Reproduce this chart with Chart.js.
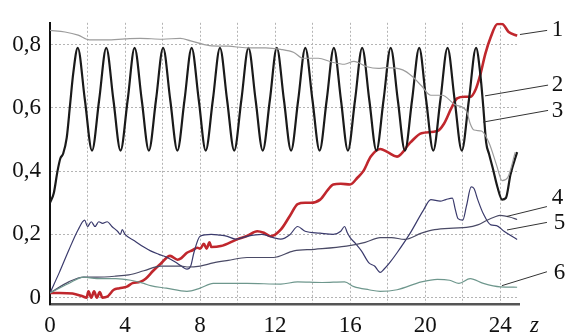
<!DOCTYPE html>
<html>
<head>
<meta charset="utf-8">
<script src="https://cdn.jsdelivr.net/npm/chart.js@4"></script>
<style>
  html, body { margin: 0; padding: 0; background: #fff; }
  #wrap { width: 571px; height: 335px; }
</style>
</head>
<body>
<div id="wrap"><canvas id="chart" width="571" height="335"></canvas></div>
<script>
// Curve 1 (red)
const z1 = [0, 0.5, 1.2, 1.7, 1.95, 2.05, 2.2, 2.35, 2.5, 2.65, 2.8, 3.05, 3.4, 3.7, 4.1, 4.4, 4.8, 5.1, 5.5, 5.9,
    6.4, 6.8, 7.0, 7.3, 7.6, 7.85, 8.0, 8.2, 8.35, 8.5, 8.6, 9.1, 10.0, 10.5, 11.05, 11.4, 11.76, 12.3, 12.8, 13.2,
    13.6, 13.9, 14.4, 14.8, 15.1, 15.5, 16.0, 16.4, 16.7, 17.1, 17.6, 18.0, 18.5, 19.2, 19.8, 20.65, 21.0, 21.4,
    21.7, 22.1, 22.4, 22.7, 22.96, 23.2, 23.5, 23.85, 24.1, 24.45, 24.9];
const v1 = [0.015, 0.015, 0.013, 0.005, 0.0, 0.02, 0.0, 0.02, 0.0, 0.018, 0.0, 0.003, 0.025, 0.03, 0.035, 0.046, 0.05, 0.06, 0.085, 0.107,
    0.132, 0.12, 0.125, 0.142, 0.15, 0.158, 0.155, 0.17, 0.155, 0.175, 0.16, 0.163, 0.185, 0.195, 0.21, 0.205, 0.194, 0.215, 0.26, 0.296,
    0.30, 0.30, 0.31, 0.34, 0.358, 0.36, 0.358, 0.38, 0.40, 0.446, 0.47, 0.46, 0.446, 0.49, 0.52, 0.527, 0.55, 0.60,
    0.63, 0.635, 0.635, 0.66, 0.71, 0.77, 0.825, 0.865, 0.865, 0.84, 0.828];

// Curve 2 (black, oscillating)
const z2 = [0, 0.2, 0.4, 0.55, 0.7, 0.89, 1.07, 1.24, 1.48,
    1.86, 2.24, 2.62, 3.00, 3.38, 3.76, 4.14, 4.51, 4.89, 5.27, 5.65, 6.03, 6.41, 6.79, 7.17, 7.55,
    7.93, 8.30, 8.68, 9.06, 9.44, 9.82, 10.20, 10.58, 10.96, 11.34, 11.72, 12.09, 12.47, 12.85, 13.23, 13.61,
    13.99, 14.37, 14.75, 15.13, 15.51, 15.88, 16.26, 16.64, 17.02, 17.40, 17.78, 18.16, 18.54, 18.92, 19.30, 19.68,
    20.05, 20.43, 20.81, 21.19, 21.57, 21.95, 22.33, 22.71,
    22.95, 23.1, 23.25, 23.4, 23.6, 23.85, 24.1, 24.3, 24.55, 24.9];
const v2 = [0.30, 0.33, 0.40, 0.44, 0.455, 0.505, 0.61, 0.71, 0.79,
    0.625, 0.465, 0.625, 0.79, 0.625, 0.465, 0.625, 0.79, 0.625, 0.465, 0.625, 0.79, 0.625, 0.465, 0.625, 0.79,
    0.625, 0.465, 0.625, 0.79, 0.625, 0.465, 0.625, 0.79, 0.625, 0.465, 0.625, 0.79, 0.625, 0.465, 0.625, 0.79,
    0.625, 0.465, 0.625, 0.79, 0.625, 0.465, 0.625, 0.79, 0.625, 0.465, 0.625, 0.79, 0.625, 0.465, 0.625, 0.79,
    0.625, 0.465, 0.625, 0.79, 0.625, 0.465, 0.625, 0.79,
    0.70, 0.60, 0.49, 0.455, 0.41, 0.35, 0.31, 0.315, 0.39, 0.46];

// Curve 3 (light grey, top)
const z3 = [0, 0.8, 1.5, 2.1, 3.0, 4.0, 4.8, 6.0, 6.95, 7.5, 8.5, 9.5, 10.5, 11.5, 12.3, 13.0, 13.5, 14.3, 15.0, 15.7,
    16.2, 16.9, 17.5, 17.9, 18.8, 19.3, 19.8, 20.3, 20.9, 21.6, 22.2, 22.4, 22.6, 23.0, 23.4, 23.8, 24.1, 24.4, 24.8];
const v3 = [0.845, 0.84, 0.83, 0.815, 0.815, 0.818, 0.82, 0.817, 0.82, 0.812, 0.797, 0.795, 0.79, 0.79, 0.785, 0.775, 0.757, 0.757, 0.745, 0.738,
    0.747, 0.73, 0.725, 0.727, 0.72, 0.70, 0.67, 0.64, 0.64, 0.61, 0.59, 0.55, 0.53, 0.527, 0.49, 0.42, 0.37, 0.38, 0.46];

// Curve 4 (smooth rising)
const z4 = [0, 1.0, 1.8, 2.5, 3.5, 4.2, 5.0, 5.9, 7.0, 7.3, 8.0, 8.7, 9.5, 10.5, 11.9, 13.0, 14.1, 15.8, 16.8, 17.6,
    18.2, 18.9, 19.8, 20.5, 21.5, 22.2, 22.8, 23.3, 23.7, 24.0, 24.5, 24.9];
const v4 = [0.015, 0.05, 0.065, 0.065, 0.068, 0.072, 0.085, 0.10, 0.10, 0.097, 0.10, 0.11, 0.118, 0.127, 0.127, 0.148, 0.153, 0.163, 0.175, 0.19,
    0.19, 0.184, 0.204, 0.215, 0.22, 0.222, 0.23, 0.245, 0.255, 0.26, 0.255, 0.247];

// Curve 5 (wavy, dark blue)
const z5 = [0, 0.5, 1.0, 1.5, 1.85, 2.0, 2.2, 2.4, 2.6, 2.8, 3.05, 3.3, 3.6, 3.75, 3.85, 4.0, 4.5, 5.0, 5.36, 5.8,
    6.25, 6.7, 7.0, 7.3, 7.5, 7.67, 8.0, 8.6, 9.0, 9.45, 9.9, 10.5, 11.3, 11.9, 12.3, 12.8, 13.2, 13.6, 14.4, 15.1,
    15.5, 15.7, 15.85, 16.0, 16.3, 16.6, 17.0, 17.3, 17.6, 17.8, 18.1, 18.5, 19.2, 19.9, 20.3, 20.8, 21.1, 21.45, 21.6, 21.75,
    22.0, 22.2, 22.45, 22.6, 22.8, 23.1, 23.5, 23.8, 24.2, 24.9];
const v5 = [0.015, 0.08, 0.15, 0.215, 0.245, 0.225, 0.24, 0.225, 0.24, 0.235, 0.24, 0.225, 0.21, 0.20, 0.215, 0.20, 0.18, 0.16, 0.148, 0.137,
    0.127, 0.112, 0.10, 0.09, 0.10, 0.142, 0.194, 0.20, 0.198, 0.194, 0.185, 0.194, 0.20, 0.19, 0.185, 0.20, 0.225, 0.21, 0.204, 0.20,
    0.21, 0.225, 0.205, 0.19, 0.17, 0.148, 0.11, 0.10, 0.08, 0.09, 0.11, 0.142, 0.204, 0.276, 0.31, 0.305, 0.31, 0.315, 0.28, 0.25,
    0.245, 0.29, 0.35, 0.345, 0.31, 0.265, 0.23, 0.228, 0.21, 0.184];

// Curve 6 (low, teal grey)
const z6 = [0, 1.0, 1.8, 2.5, 3.5, 4.3, 5.0, 5.36, 6.2, 7.3, 8.0, 8.7, 10.5, 12.3, 13.2, 14.5, 15.7, 16.2, 17.0, 17.6,
    18.5, 19.8, 20.65, 21.3, 21.8, 22.4, 23.1, 24.0, 24.9];
const v6 = [0.015, 0.045, 0.065, 0.06, 0.06, 0.055, 0.045, 0.038, 0.03, 0.02, 0.03, 0.045, 0.045, 0.043, 0.05, 0.048, 0.05, 0.035, 0.025, 0.02,
    0.025, 0.05, 0.058, 0.055, 0.045, 0.06, 0.045, 0.034, 0.033];

const xTicks = [0, 2, 4, 6, 8, 10, 12, 14, 16, 18, 20, 22, 24];
const yTicks = [0, 0.2, 0.4, 0.6, 0.8];

// curve labels: [text, labelZ, labelBaselineValue, leaderStartZ, leaderStartV, leaderEndZ, leaderEndV]
const curveLabels = [
    ['1', 26.75, 0.826, 25.05, 0.832, 26.5, 0.845],
    ['2', 26.75, 0.654, 23.19, 0.638, 26.55, 0.672],
    ['3', 26.75, 0.572, 23.08, 0.555, 26.55, 0.592],
    ['4', 26.75, 0.295, 24.36, 0.257, 26.49, 0.288],
    ['5', 26.85, 0.218, 24.36, 0.214, 26.49, 0.238],
    ['6', 26.85, 0.06, 24.09, 0.038, 26.49, 0.082]
];

const SERIF = '"Liberation Serif", "DejaVu Serif", serif';

function pts(zs, vs) {
    return zs.map((z, i) => ({ x: z, y: vs[i] }));
}

function series(zs, vs, color, width) {
    return {
        data: pts(zs, vs),
        borderColor: color,
        borderWidth: width,
        pointRadius: 0,
        fill: false,
        tension: 0.4,
        cubicInterpolationMode: 'monotone'
    };
}

const labelPlugin = {
    id: 'curveLabels',
    afterDraw(chart) {
        const ctx = chart.ctx;
        const xs = chart.scales.x;
        const ys = chart.scales.y;
        ctx.save();
        ctx.strokeStyle = '#333';
        ctx.lineWidth = 1;
        ctx.fillStyle = '#111';
        ctx.font = '23px ' + SERIF;
        ctx.textBaseline = 'alphabetic';
        ctx.textAlign = 'left';
        curveLabels.forEach(([t, lz, lv, az, av, bz, bv]) => {
            ctx.beginPath();
            ctx.moveTo(xs.getPixelForValue(az), ys.getPixelForValue(av));
            ctx.lineTo(xs.getPixelForValue(bz), ys.getPixelForValue(bv));
            ctx.stroke();
            ctx.fillText(t, xs.getPixelForValue(lz), ys.getPixelForValue(lv));
        });
        // axis name
        ctx.font = 'italic 23px ' + SERIF;
        ctx.fillText('z', xs.getPixelForValue(25.58), ys.getPixelForValue(-0.109));
        ctx.restore();
    }
};

new Chart(document.getElementById('chart').getContext('2d'), {
    type: 'line',
    data: {
        datasets: [
            series(z3, v3, '#9c9c9c', 1.2),
            series(z6, v6, '#6e978d', 1.2),
            series(z4, v4, '#4a4a66', 1.2),
            series(z5, v5, '#3a3a6c', 1.2),
            series(z2, v2, '#1a1a1a', 2.2),
            series(z1, v1, '#c0272d', 2.6)
        ]
    },
    options: {
        responsive: false,
        animation: false,
        layout: { padding: { left: 0, right: 52, top: 15, bottom: 0 } },
        plugins: {
            legend: { display: false },
            tooltip: { enabled: false }
        },
        scales: {
            x: {
                type: 'linear',
                min: 0,
                max: 25,
                afterBuildTicks: s => { s.ticks = xTicks.map(v => ({ value: v })); },
                afterFit: s => { s.height = 31; },
                ticks: {
                    padding: 8,
                    color: '#111',
                    font: { family: SERIF, size: 23 },
                    maxRotation: 0,
                    autoSkip: false,
                    callback: v => (v % 4 === 0 ? String(v) : '')
                },
                grid: { color: '#b4b4b4', lineWidth: 1, drawTicks: false },
                border: { color: '#555', width: 2.5, dash: [2, 2] }
            },
            y: {
                min: -0.02,
                max: 0.869,
                afterBuildTicks: s => { s.ticks = yTicks.map(v => ({ value: v })); },
                afterFit: s => { s.width = 50; },
                ticks: {
                    padding: 9,
                    color: '#111',
                    font: { family: SERIF, size: 23 },
                    callback: v => (v === 0 ? '0' : v.toFixed(1).replace('.', ','))
                },
                grid: { color: '#b4b4b4', lineWidth: 1, drawTicks: false },
                border: { color: '#111', width: 2, dash: [2, 2] }
            }
        }
    },
    plugins: [labelPlugin]
});
</script>
</body>
</html>
